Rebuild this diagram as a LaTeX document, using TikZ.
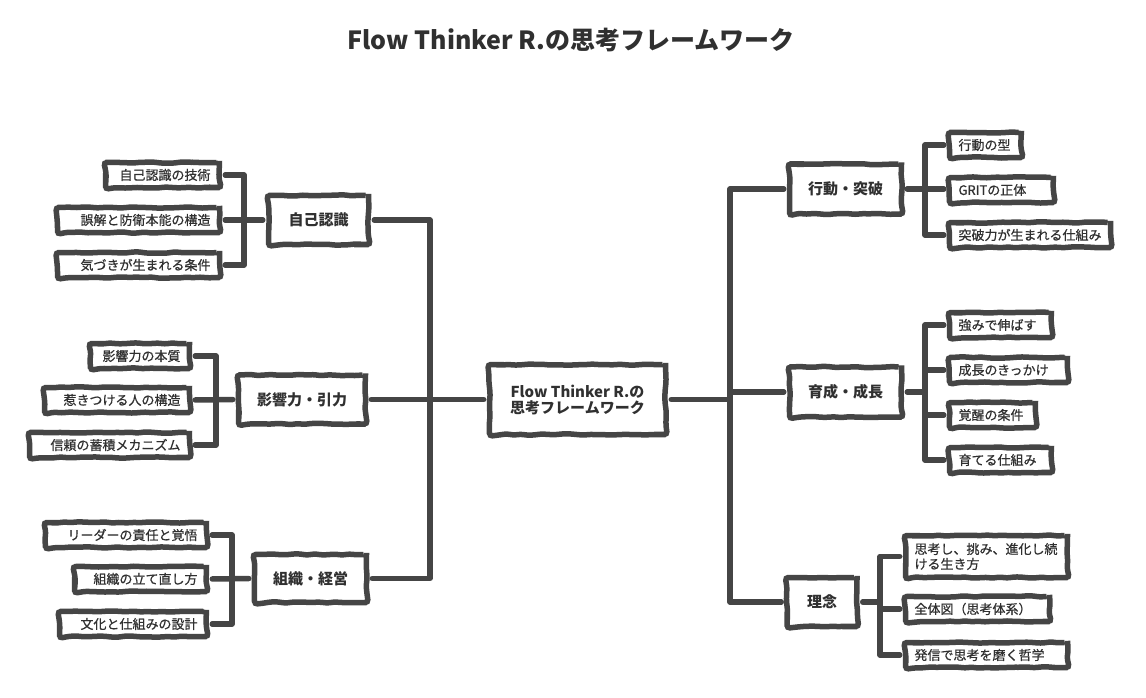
\documentclass[tikz,border=0pt]{standalone}
\usepackage{fontspec}
\setmainfont{Noto Sans CJK JP}
\newfontfamily\leaffont[FakeBold=0.6]{Noto Sans CJK JP}
\usetikzlibrary{decorations.pathmorphing}
\definecolor{ink}{HTML}{454545}
\definecolor{txt}{HTML}{303030}
\pgfmathsetseed{7}
\tikzset{
  sketch/.style={draw=ink, line width=5.5pt, rounded corners=3pt, fill=white, text=txt,
    decorate, decoration={random steps, segment length=7pt, amplitude=0.7pt}},
  leafbox/.style={sketch, inner xsep=9pt, inner ysep=2pt, minimum height=25pt,
    font=\leaffont\fontsize{13}{16}\selectfont},
  leafL/.style={leafbox, align=right},
  leafR/.style={leafbox, align=left},
  midbox/.style={sketch, inner sep=2pt, align=center, font=\fontsize{15}{18}\selectfont\bfseries},
  conn/.style={draw=ink, line width=5.5pt, line cap=round, line join=round,
    shorten >=3pt, shorten <=3pt},
}
\begin{document}
\begin{tikzpicture}[x=1pt, y=-1pt]
\useasboundingbox (0,0) rectangle (1146,698);
\fill[white] (0,0) rectangle (1146,698);

\node[font=\fontsize{25}{30}\selectfont\bfseries, text=txt] (title) at (571,40) {Flow Thinker R.の思考フレームワーク};

% center
\node[midbox, minimum width=176pt, minimum height=70pt] (center) at (577.5,399.5) {Flow Thinker R.の\\[-2pt]思考フレームワーク};

% mid nodes
\node[midbox, minimum width=100pt, minimum height=49pt] (jiko) at (318.5,220) {自己認識};
\node[midbox, minimum width=127pt, minimum height=49pt] (eikyo) at (302,399.5) {影響力・引力};
\node[midbox, minimum width=112pt, minimum height=48pt] (soshiki) at (310.5,578.5) {組織・経営};
\node[midbox, minimum width=112pt, minimum height=50pt] (kodo) at (845.5,189) {行動・突破};
\node[midbox, minimum width=112pt, minimum height=50pt] (ikusei) at (845.5,392) {育成・成長};
\node[midbox, minimum width=70pt, minimum height=49pt] (rinen) at (822,602) {理念};

% left leaves
\node[leafL, text width=96pt] (L11) at (162.5,175) {自己認識の技術};
\node[leafL, text width=144pt] (L12) at (138.5,220) {誤解と防衛本能の構造};
\node[leafL, text width=144pt] (L13) at (138.5,265) {気づきが生まれる条件};
\node[leafL, text width=81pt] (L21) at (140,356) {影響力の本質};
\node[leafL, text width=127pt] (L22) at (117,400) {惹きつける人の構造};
\node[leafL, text width=142pt] (L23) at (109.5,445) {信頼の蓄積メカニズム};
\node[leafL, text width=143pt] (L31) at (126,535) {リーダーの責任と覚悟};
\node[leafL, text width=114pt] (L32) at (140.5,579) {組織の立て直し方};
\node[leafL, text width=129pt] (L33) at (133,624) {文化と仕組みの設計};

% right leaves
\node[leafR, text width=54pt] (R11) at (985.5,145) {行動の型};
\node[leafR, text width=86pt] (R12) at (1001.5,190) {GRITの正体};
\node[leafR, text width=143pt] (R13) at (1030,235) {突破力が生まれる仕組み};
\node[leafR, text width=84pt] (R21) at (1000.5,325) {強みで伸ばす};
\node[leafR, text width=100pt] (R22) at (1008.5,370) {成長のきっかけ};
\node[leafR, text width=68pt] (R23) at (992.5,415) {覚醒の条件};
\node[leafR, text width=84pt] (R24) at (1000.5,460) {育てる仕組み};
\node[leafR, text width=144pt, minimum height=42pt, font=\leaffont\fontsize{13}{15}\selectfont] (R31) at (986.5,556.5) {思考し、挑み、進化し続\\ける生き方};
\node[leafR, text width=126pt] (R32) at (977.5,609) {全体図（思考体系）};
\node[leafR, text width=144pt] (R33) at (986.5,655) {発信で思考を磨く哲学};

% trunk and bracket x positions
\coordinate (TL) at (430,0);
\coordinate (TR) at (730,0);
\coordinate (B1) at (244,0);
\coordinate (B2) at (216,0);
\coordinate (B3) at (232,0);
\coordinate (B4) at (925,0);
\coordinate (B5) at (925,0);
\coordinate (B6) at (880,0);

% main trunks
\draw[conn] (jiko.east) -- (jiko.east -| TL) -- (soshiki.east -| TL) -- (soshiki.east);
\draw[conn] (eikyo.east) -- (center.west);
\draw[conn] (kodo.west) -- (kodo.west -| TR) -- (rinen.west -| TR) -- (rinen.west);
\draw[conn, shorten >=0pt] (center.east) -- (center.east -| TR);
\draw[conn, shorten <=0pt] (ikusei.west -| TR) -- (ikusei.west);

% left brackets
\draw[conn] (L11.east) -- (L11.east -| B1) -- (L13.east -| B1) -- (L13.east);
\draw[conn] (L12.east) -- (jiko.west);
\draw[conn] (L21.east) -- (L21.east -| B2) -- (L23.east -| B2) -- (L23.east);
\draw[conn] (L22.east) -- (eikyo.west);
\draw[conn] (L31.east) -- (L31.east -| B3) -- (L33.east -| B3) -- (L33.east);
\draw[conn] (L32.east) -- (soshiki.west);

% right brackets
\draw[conn] (R11.west) -- (R11.west -| B4) -- (R13.west -| B4) -- (R13.west);
\draw[conn] (kodo.east) -- (kodo.east -| R12.west);
\draw[conn] (R21.west) -- (R21.west -| B5) -- (R24.west -| B5) -- (R24.west);
\draw[conn] (R22.west) -- (R22.west -| B5);
\draw[conn] (R23.west) -- (R23.west -| B5);
\draw[conn] (ikusei.east) -- (ikusei.east -| B5);
\draw[conn] (R31.west) -- (R31.west -| B6) -- (R33.west -| B6) -- (R33.west);
\draw[conn] (R32.west) -- (R32.west -| B6);
\draw[conn] (rinen.east) -- (rinen.east -| B6);
\end{tikzpicture}
\end{document}
